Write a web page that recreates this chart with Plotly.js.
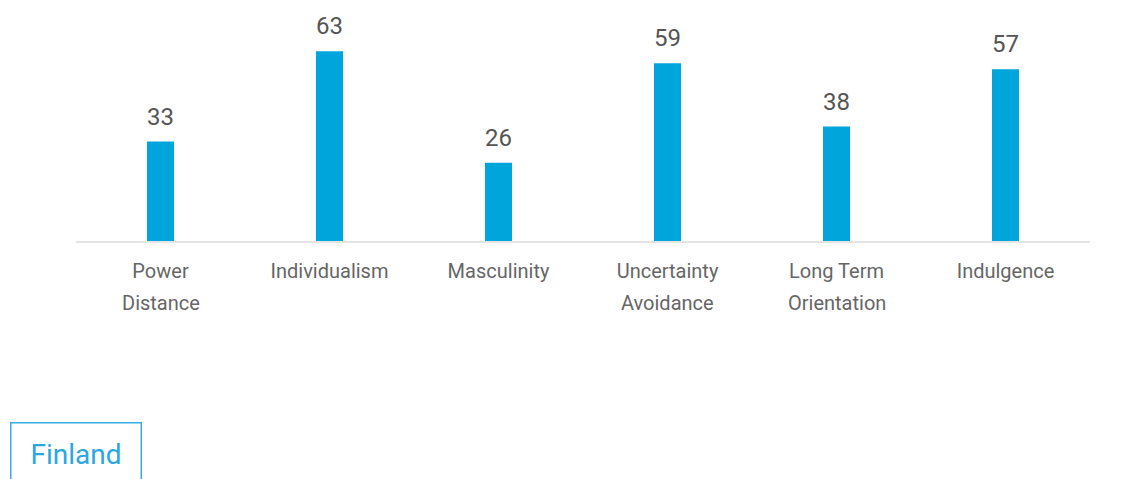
<!DOCTYPE html>
<html>
<head>
<meta charset="utf-8">
<script src="https://cdn.plot.ly/plotly-3.0.1.min.js"></script>
<style>
html,body{margin:0;padding:0;background:#fff;}
#chart{width:1140px;height:479px;}
</style>
</head>
<body>
<div id="chart"></div>
<script>
const countryName = "Finland";
const categories = ["Power Distance", "Individualism", "Masculinity", "Uncertainty Avoidance", "Long Term Orientation", "Indulgence"];
const labelLine1 = ["Power", "Individualism", "Masculinity", "Uncertainty", "Long Term", "Indulgence"];
const labelLine2 = ["Distance", "", "", "Avoidance", "Orientation", ""];
const scores = [33, 63, 26, 59, 38, 57];

const barColor = "#00a5dc";
const font = "Roboto, 'Open Sans', sans-serif";
const labelFont = {family: font, size: 20, color: "#666666"};

const trace = {
  type: "bar",
  name: countryName,
  x: categories,
  y: scores,
  marker: {color: barColor},
  hoverinfo: "x+y",
  showlegend: false
};

const valueAnnotations = categories.map((c, i) => ({
  x: c, y: scores[i], xref: "x", yref: "y",
  text: String(scores[i]),
  showarrow: false, yanchor: "bottom", yshift: 9,
  font: {family: font, size: 24, color: "#555555"}
}));

const secondLineAnnotations = categories.map((c, i) => ({
  x: c, y: 0, xref: "x", yref: "y",
  text: labelLine2[i],
  showarrow: false, yanchor: "middle", yshift: -62,
  font: labelFont
})).filter(a => a.text !== "");

const legendBox = {
  xref: "paper", yref: "paper", x: -0.0654, y: -0.7527,
  xanchor: "left", yanchor: "top",
  text: countryName, showarrow: false,
  font: {family: font, size: 28, color: "#2aa7df"},
  width: 101, align: "center",
  bordercolor: "#35aee3", borderwidth: 1.5, borderpad: 14,
  bgcolor: "#ffffff"
};

const layout = {
  width: 1140, height: 479,
  margin: {l: 76, r: 50, t: 0, b: 238},
  paper_bgcolor: "#ffffff", plot_bgcolor: "#ffffff",
  bargap: 0.84,
  showlegend: false,
  font: {family: font},
  xaxis: {
    type: "category",
    categoryorder: "array", categoryarray: categories,
    tickmode: "array", tickvals: categories, ticktext: labelLine1,
    showline: true, linecolor: "#e4e4e4", linewidth: 2,
    showgrid: false, zeroline: false, ticks: "",
    ticklabelstandoff: 11,
    tickfont: labelFont,
    fixedrange: true
  },
  yaxis: {
    range: [0, 80], visible: false, showgrid: false, zeroline: false, fixedrange: true
  },
  annotations: valueAnnotations.concat(secondLineAnnotations, [legendBox])
};

Plotly.newPlot("chart", [trace], layout, {displayModeBar: false, staticPlot: true});
</script>
</body>
</html>
